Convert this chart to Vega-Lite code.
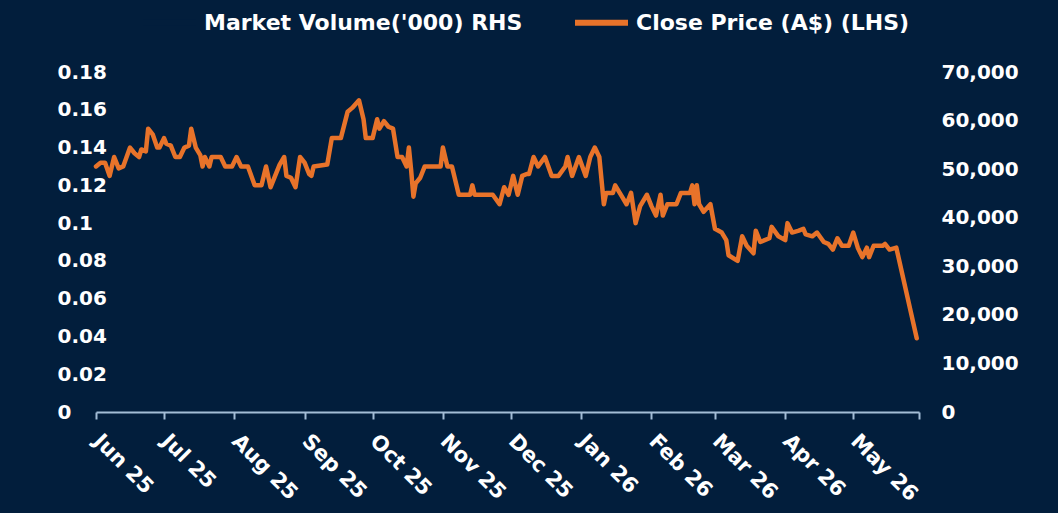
{
 "$schema": "https://vega.github.io/schema/vega-lite/v6.json",
 "width": 823,
 "height": 340,
 "autosize": {"type": "none"},
 "padding": {"left": 96, "top": 72, "right": 139, "bottom": 101},
 "background": "#021e3c",
 "config": {"view": {"stroke": null}, "font": "DejaVu Sans", "axis": {"grid": false, "labelColor": "#ffffff", "labelFont": "DejaVu Sans", "labelFontWeight": "bold", "labelFontSize": 20}},
 "data": {"format": {"parse": {"date": "date:'%Y-%m-%d'"}}, "values": [
  {"date":"2025-06-01","price":0.130},{"date":"2025-06-03","price":0.132},{"date":"2025-06-05","price":0.132},{"date":"2025-06-07","price":0.125},{"date":"2025-06-09","price":0.135},{"date":"2025-06-11","price":0.129},{"date":"2025-06-13","price":0.130},{"date":"2025-06-16","price":0.140},{"date":"2025-06-18","price":0.137},{"date":"2025-06-20","price":0.135},{"date":"2025-06-21","price":0.139},{"date":"2025-06-23","price":0.138},{"date":"2025-06-24","price":0.150},{"date":"2025-06-26","price":0.147},{"date":"2025-06-28","price":0.140},{"date":"2025-06-29","price":0.140},
  {"date":"2025-07-01","price":0.145},{"date":"2025-07-02","price":0.142},{"date":"2025-07-04","price":0.141},{"date":"2025-07-06","price":0.135},{"date":"2025-07-08","price":0.135},{"date":"2025-07-10","price":0.140},{"date":"2025-07-12","price":0.141},{"date":"2025-07-13","price":0.150},{"date":"2025-07-15","price":0.140},{"date":"2025-07-17","price":0.136},{"date":"2025-07-18","price":0.130},{"date":"2025-07-19","price":0.135},{"date":"2025-07-21","price":0.130},{"date":"2025-07-22","price":0.135},{"date":"2025-07-26","price":0.135},{"date":"2025-07-28","price":0.130},{"date":"2025-07-31","price":0.130},
  {"date":"2025-08-02","price":0.135},{"date":"2025-08-04","price":0.130},{"date":"2025-08-07","price":0.130},{"date":"2025-08-10","price":0.120},{"date":"2025-08-12","price":0.120},{"date":"2025-08-13","price":0.120},{"date":"2025-08-15","price":0.130},{"date":"2025-08-17","price":0.119},{"date":"2025-08-19","price":0.125},{"date":"2025-08-21","price":0.131},{"date":"2025-08-23","price":0.135},{"date":"2025-08-24","price":0.125},{"date":"2025-08-26","price":0.124},{"date":"2025-08-28","price":0.119},{"date":"2025-08-30","price":0.135},
  {"date":"2025-09-01","price":0.132},{"date":"2025-09-03","price":0.126},{"date":"2025-09-04","price":0.125},{"date":"2025-09-05","price":0.130},{"date":"2025-09-11","price":0.131},{"date":"2025-09-13","price":0.145},{"date":"2025-09-17","price":0.145},{"date":"2025-09-20","price":0.159},{"date":"2025-09-22","price":0.161},{"date":"2025-09-25","price":0.165},{"date":"2025-09-27","price":0.155},{"date":"2025-09-28","price":0.145},
  {"date":"2025-10-01","price":0.145},{"date":"2025-10-03","price":0.155},{"date":"2025-10-04","price":0.150},{"date":"2025-10-06","price":0.154},{"date":"2025-10-08","price":0.151},{"date":"2025-10-10","price":0.150},{"date":"2025-10-12","price":0.135},{"date":"2025-10-14","price":0.135},{"date":"2025-10-16","price":0.130},{"date":"2025-10-17","price":0.140},{"date":"2025-10-18","price":0.128},{"date":"2025-10-19","price":0.114},{"date":"2025-10-20","price":0.121},{"date":"2025-10-22","price":0.124},{"date":"2025-10-24","price":0.130},{"date":"2025-10-31","price":0.130},
  {"date":"2025-11-01","price":0.140},{"date":"2025-11-03","price":0.130},{"date":"2025-11-05","price":0.130},{"date":"2025-11-07","price":0.120},{"date":"2025-11-08","price":0.115},{"date":"2025-11-13","price":0.115},{"date":"2025-11-14","price":0.120},{"date":"2025-11-15","price":0.115},{"date":"2025-11-23","price":0.115},{"date":"2025-11-26","price":0.110},{"date":"2025-11-28","price":0.119},{"date":"2025-11-30","price":0.115},
  {"date":"2025-12-02","price":0.125},{"date":"2025-12-04","price":0.115},{"date":"2025-12-06","price":0.125},{"date":"2025-12-08","price":0.126},{"date":"2025-12-09","price":0.126},{"date":"2025-12-11","price":0.135},{"date":"2025-12-13","price":0.130},{"date":"2025-12-16","price":0.135},{"date":"2025-12-19","price":0.125},{"date":"2025-12-22","price":0.125},{"date":"2025-12-25","price":0.130},{"date":"2025-12-26","price":0.135},{"date":"2025-12-28","price":0.125},{"date":"2025-12-31","price":0.135},
  {"date":"2026-01-03","price":0.125},{"date":"2026-01-05","price":0.135},{"date":"2026-01-07","price":0.140},{"date":"2026-01-09","price":0.135},{"date":"2026-01-11","price":0.110},{"date":"2026-01-12","price":0.116},{"date":"2026-01-15","price":0.116},{"date":"2026-01-16","price":0.120},{"date":"2026-01-19","price":0.114},{"date":"2026-01-21","price":0.110},{"date":"2026-01-23","price":0.116},{"date":"2026-01-25","price":0.100},{"date":"2026-01-27","price":0.109},{"date":"2026-01-30","price":0.115},
  {"date":"2026-02-01","price":0.109},{"date":"2026-02-03","price":0.104},{"date":"2026-02-05","price":0.115},{"date":"2026-02-06","price":0.104},{"date":"2026-02-08","price":0.110},{"date":"2026-02-12","price":0.110},{"date":"2026-02-14","price":0.116},{"date":"2026-02-18","price":0.116},{"date":"2026-02-19","price":0.120},{"date":"2026-02-20","price":0.110},{"date":"2026-02-21","price":0.120},{"date":"2026-02-22","price":0.110},{"date":"2026-02-24","price":0.106},{"date":"2026-02-27","price":0.110},
  {"date":"2026-03-01","price":0.097},{"date":"2026-03-04","price":0.095},{"date":"2026-03-06","price":0.091},{"date":"2026-03-07","price":0.083},{"date":"2026-03-11","price":0.080},{"date":"2026-03-13","price":0.093},{"date":"2026-03-15","price":0.088},{"date":"2026-03-18","price":0.084},{"date":"2026-03-19","price":0.096},{"date":"2026-03-21","price":0.090},{"date":"2026-03-25","price":0.092},{"date":"2026-03-26","price":0.098},{"date":"2026-03-29","price":0.093},
  {"date":"2026-04-01","price":0.091},{"date":"2026-04-02","price":0.100},{"date":"2026-04-04","price":0.095},{"date":"2026-04-07","price":0.096},{"date":"2026-04-09","price":0.097},{"date":"2026-04-10","price":0.094},{"date":"2026-04-13","price":0.093},{"date":"2026-04-15","price":0.095},{"date":"2026-04-18","price":0.090},{"date":"2026-04-20","price":0.089},{"date":"2026-04-22","price":0.086},{"date":"2026-04-24","price":0.092},{"date":"2026-04-26","price":0.088},{"date":"2026-04-29","price":0.088},
  {"date":"2026-05-01","price":0.095},{"date":"2026-05-03","price":0.087},{"date":"2026-05-05","price":0.082},{"date":"2026-05-07","price":0.087},{"date":"2026-05-08","price":0.082},{"date":"2026-05-10","price":0.088},{"date":"2026-05-14","price":0.088},{"date":"2026-05-15","price":0.089},{"date":"2026-05-17","price":0.086},{"date":"2026-05-20","price":0.087},{"date":"2026-05-29","price":0.039}
 ]},
 "layer": [
  {
   "mark": {"type": "line", "strokeWidth": 4.5, "strokeCap": "round", "strokeJoin": "round"},
   "encoding": {
    "x": {"field": "date", "type": "temporal",
     "scale": {"domain": [{"year": 2025, "month": 6, "date": 1}, {"year": 2026, "month": 5, "date": 30}]},
     "axis": {"title": null, "values": [
       {"year": 2025, "month": 6, "date": 1}, {"year": 2025, "month": 7, "date": 1}, {"year": 2025, "month": 8, "date": 1}, {"year": 2025, "month": 9, "date": 1}, {"year": 2025, "month": 10, "date": 1}, {"year": 2025, "month": 11, "date": 1}, {"year": 2025, "month": 12, "date": 1}, {"year": 2026, "month": 1, "date": 1}, {"year": 2026, "month": 2, "date": 1}, {"year": 2026, "month": 3, "date": 1}, {"year": 2026, "month": 4, "date": 1}, {"year": 2026, "month": 5, "date": 1}, {"year": 2026, "month": 5, "date": 30}],
      "labelExpr": "date(datum.value) == 1 ? timeFormat(datum.value, '%b %y') : ''",
      "labelAngle": 45, "labelAlign": "left", "labelBaseline": "top", "labelPadding": 11, "labelOffset": 8, "labelFontSize": 21,
      "domainColor": "#a3bdd6", "domainWidth": 2, "tickColor": "#a3bdd6", "tickWidth": 2, "tickSize": 7,
      "labelOverlap": false, "labelFlush": false, "labelBound": false}
    },
    "y": {"field": "price", "type": "quantitative", "scale": {"domain": [0, 0.18]},
     "axis": {"title": null, "orient": "left", "values": [0, 0.02, 0.04, 0.06, 0.08, 0.1, 0.12, 0.14, 0.16, 0.18], "format": ".2~f",
      "domain": false, "ticks": false, "labelAlign": "left", "labelBaseline": "middle", "labelPadding": 39, "labelFlush": false, "labelOverlap": false}},
    "color": {"datum": "Close Price (A$) (LHS)", "type": "nominal",
     "scale": {"domain": ["Market Volume('000) RHS", "Close Price (A$) (LHS)"], "range": ["#021e3c", "#E8732A"]},
     "legend": {"title": null, "orient": "none", "legendX": 44, "legendY": -79, "direction": "horizontal", "padding": 0,
      "symbolType": "stroke", "symbolSize": 2809, "symbolStrokeWidth": 6, "labelOffset": 5, "columnPadding": 40,
      "labelColor": "#ffffff", "labelFont": "DejaVu Sans", "labelFontWeight": "bold", "labelFontSize": 22, "labelLimit": 500}}
   }
  },
  {
   "mark": {"type": "rule", "opacity": 0},
   "encoding": {
    "y": {"field": "volume", "type": "quantitative", "scale": {"domain": [0, 70000]},
     "axis": {"title": null, "orient": "right", "values": [0, 10000, 20000, 30000, 40000, 50000, 60000, 70000], "labelExpr": "format(datum.value, ',')",
      "domain": false, "ticks": false, "labelAlign": "left", "labelBaseline": "middle", "labelPadding": 22, "labelFlush": false, "labelOverlap": false}}
   }
  }
 ],
 "resolve": {"scale": {"y": "independent"}}
}
